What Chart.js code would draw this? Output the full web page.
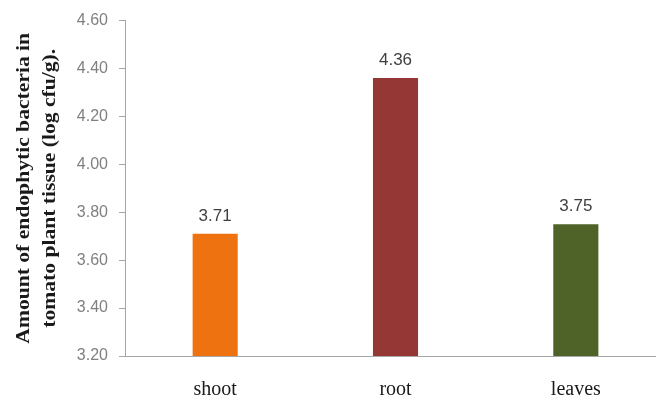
<!DOCTYPE html>
<html>
<head>
<meta charset="utf-8">
<script src="https://cdn.jsdelivr.net/npm/chart.js@4"></script>
<style>
  body { margin: 0; background: #fff; overflow: hidden; }
  #wrap { width: 656px; height: 400px; overflow: hidden; }
</style>
</head>
<body>
<!-- canvas is a bit wider than the page: the original figure is cut off on the right -->
<div id="wrap"><canvas id="barChart" width="666" height="400"></canvas></div>
<script>
const parts = ['shoot', 'root', 'leaves'];
const bacteria = [3.71, 4.36, 3.75];
const barColors = ['#EE720F', '#953735', '#4F6228'];
const yTitle = ['Amount of endophytic bacteria in', 'tomato plant tissue (log cfu/g).'];

// value labels over each bar
const valueLabels = {
  id: 'valueLabels',
  afterDatasetsDraw(chart) {
    const ctx = chart.ctx;
    const meta = chart.getDatasetMeta(0);
    ctx.save();
    ctx.font = '17px "Liberation Sans", Arial, sans-serif';
    ctx.fillStyle = '#404040';
    ctx.textAlign = 'center';
    ctx.textBaseline = 'bottom';
    meta.data.forEach((bar, i) => {
      ctx.fillText(bacteria[i].toFixed(2), bar.x, bar.y - 9);
    });
    ctx.restore();
  }
};

// y title, a bit stretched like the original figure
const sideTitle = {
  id: 'sideTitle',
  afterDraw(chart) {
    const ctx = chart.ctx;
    const area = chart.chartArea;
    const cy = (area.top + area.bottom) / 2;
    const xs = [24, 50];
    ctx.save();
    ctx.font = 'bold 18px "Liberation Serif", "Times New Roman", serif';
    ctx.fillStyle = '#1a1a1a';
    ctx.textAlign = 'center';
    ctx.textBaseline = 'middle';
    yTitle.forEach((line, i) => {
      ctx.save();
      ctx.translate(xs[i], cy);
      ctx.rotate(-Math.PI / 2);
      ctx.scale(1.2, 1);
      ctx.fillText(line, 0, 0);
      ctx.restore();
    });
    ctx.restore();
  }
};

const ctx = document.getElementById('barChart');
const chart = new Chart(ctx, {
  type: 'bar',
  data: {
    labels: parts,
    datasets: [{
      data: bacteria,
      backgroundColor: barColors,
      barPercentage: 0.25,
      categoryPercentage: 1.0
    }]
  },
  options: {
    responsive: false,
    animation: false,
    layout: {
      padding: { top: 20, left: 0, right: 0, bottom: 0 }
    },
    plugins: {
      legend: { display: false },
      tooltip: { enabled: false }
    },
    scales: {
      x: {
        afterFit(scale) { scale.height = 44; },
        grid: { display: false, drawTicks: false },
        border: { color: '#a6a6a6', width: 1 },
        ticks: {
          padding: 22,
          color: '#1a1a1a',
          font: { family: '"Liberation Serif", "Times New Roman", serif', size: 20 }
        }
      },
      y: {
        min: 3.2,
        max: 4.6,
        afterFit(scale) { scale.width = 125; },
        grid: {
          drawOnChartArea: false,
          tickLength: 6,
          color: '#a6a6a6'
        },
        border: { color: '#a6a6a6', width: 1 },
        ticks: {
          stepSize: 0.2,
          padding: 11,
          color: '#808080',
          font: { family: '"Liberation Sans", Arial, sans-serif', size: 16 },
          callback: (v) => v.toFixed(2)
        }
      }
    }
  },
  plugins: [valueLabels, sideTitle]
});
</script>
</body>
</html>
